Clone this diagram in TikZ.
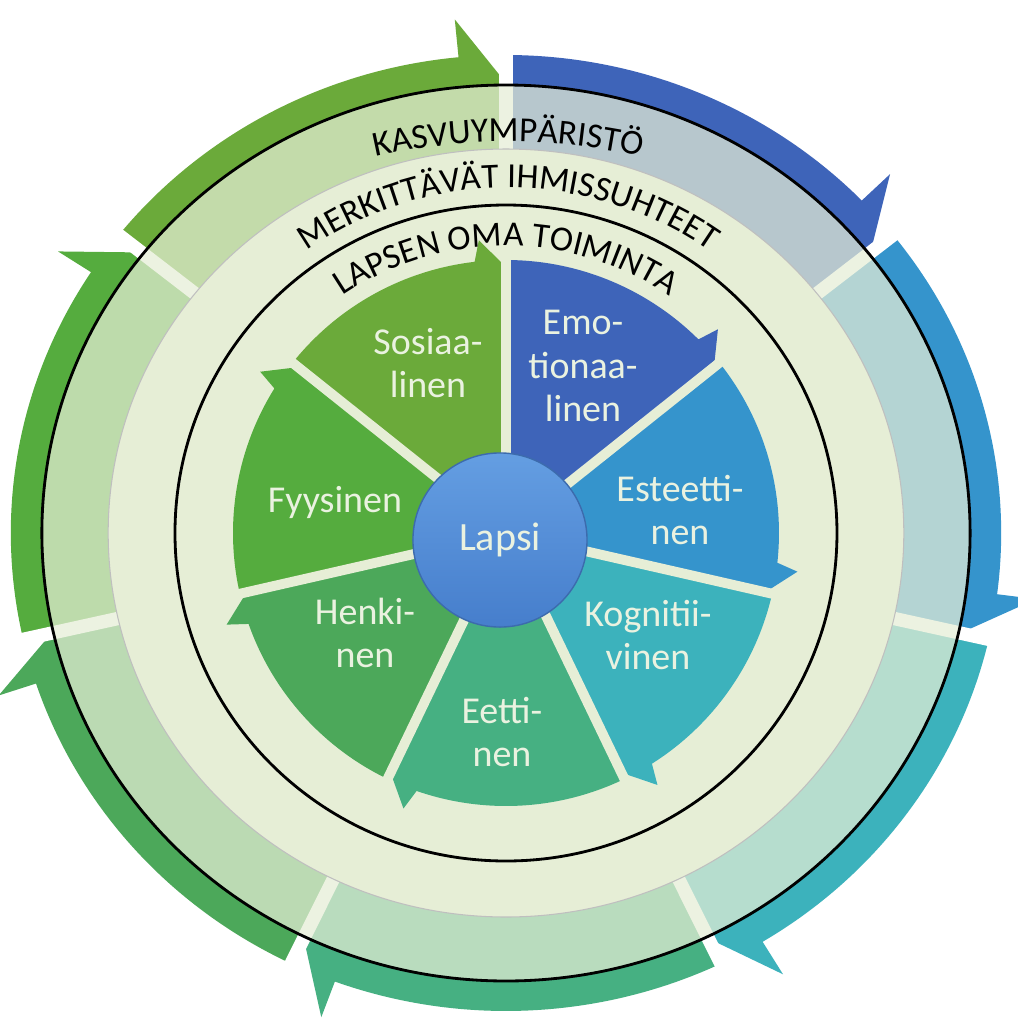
\documentclass[tikz,border=0pt]{standalone}
\usepackage{fontspec}
\setmainfont{Carlito}
\usepackage{xcolor}
\usetikzlibrary{decorations.text}

\definecolor{emoc}{RGB}{62,100,185}
\definecolor{estc}{RGB}{53,148,204}
\definecolor{kogc}{RGB}{60,178,188}
\definecolor{eetc}{RGB}{70,176,130}
\definecolor{henc}{RGB}{76,168,90}
\definecolor{fyyc}{RGB}{85,172,62}
\definecolor{sosc}{RGB}{107,170,58}
\definecolor{kerma}{RGB}{230,238,214}
\definecolor{lbltxt}{RGB}{234,242,224}
\definecolor{lapsiyla}{RGB}{100,158,226}
\definecolor{lapsiala}{RGB}{70,126,204}

\newcommand{\kaarifontti}{\fontsize{10}{12}\selectfont}

\begin{document}
\begin{tikzpicture}[
    x=0.01cm, y=0.01cm,
    rako/.style={line width=3.8pt, white},
    vali/.style={line width=2.8pt, kerma},
    rengas/.style={line width=0.8pt, black},
    lbl/.style={align=center, inner sep=0pt, text=lbltxt, font=\fontsize{10.8}{12.3}\selectfont},
    lapsi/.style={circle, minimum size=1.74cm, inner sep=0pt, top color=lapsiyla, bottom color=lapsiala,
        draw=lapsiala!85!black, line width=0.4pt, text=lbltxt, font=\fontsize{11.4}{13}\selectfont}
]
    % Tausta — kuvan koko 1018 x 1023
    \fill[white] (-506,-490) rectangle (512,533);
    \useasboundingbox (-506,-490) rectangle (512,533);

    % === Ulkokehä: nuolet ===
    \begin{scope}[xscale=1.036]
        \foreach \k/\col in {0/emoc,1/estc,2/kogc,3/eetc,4/henc,5/fyyc,6/sosc} {
            \pgfmathsetmacro{\alku}{90-\k*360/7}
            \pgfmathsetmacro{\loppu}{\alku-360/7}
            \pgfmathsetmacro{\karki}{\loppu+5.5}
            \fill[\col] (\alku:384) -- (\alku:478)
                arc[start angle=\alku, end angle=\karki, radius=478]
                -- (\karki:516) -- (\loppu:450) -- (\loppu:384)
                arc[start angle=\loppu, end angle=\alku, radius=384] -- cycle;
        }
        % raot nuolten välissä
        \foreach \k in {0,...,6} {
            \pgfmathsetmacro{\alku}{90-\k*360/7}
            \draw[rako] (\alku:376) -- (\alku:540);
        }
        % vaalea kehä nuolten päällä
        \fill[kerma, opacity=0.72, even odd rule] (0,0) circle[radius=448] (0,0) circle[radius=384];
        \fill[kerma] (0,0) circle[radius=384];
        \draw[black!25, line width=0.3pt] (0,0) circle[radius=384];
        \draw[rengas] (0,0) circle[radius=448];
    \end{scope}

    % sisempi rengas
    \draw[rengas] (0,0) ellipse[x radius=331, y radius=328];

    % === Sektorit ===
    \foreach \k/\col in {0/emoc,1/estc,2/kogc,3/eetc,4/henc,5/fyyc,6/sosc} {
        \pgfmathsetmacro{\alku}{90-\k*360/7}
        \pgfmathsetmacro{\loppu}{\alku-360/7}
        \pgfmathsetmacro{\kaari}{\loppu+6.6}
        \pgfmathsetmacro{\karki}{\loppu+5.3}
        \fill[\col] (0,0) -- (\alku:273)
            arc[start angle=\alku, end angle=\kaari, radius=273]
            -- (\karki:294) -- (\loppu:266) -- cycle;
    }
    \foreach \k in {0,...,6} {
        \pgfmathsetmacro{\alku}{90-\k*360/7}
        \draw[vali] (0,0) -- (\alku:300);
    }

    % keskus
    \node[lapsi] (lapsi) at (-6,-7) {Lapsi};

    % === Kehien tekstit ===
    % ulompi teksti loivemmalla kaarella
    \path[decorate, decoration={text along path, text align=center,
        text={|\kaarifontti|KASVUYMPÄRISTÖ}}]
        ([shift={(2,-209)}]155:600) arc[start angle=155, end angle=25, radius=600];
    \path[decorate, decoration={text along path, text align=center,
        text={|\kaarifontti|MERKITTÄVÄT IHMISSUHTEET}}]
        ([shift={(2,0)}]170:349 and 345) arc[start angle=170, end angle=10, x radius=349, y radius=345];
    \path[decorate, decoration={text along path, text align=center,
        text={|\kaarifontti|LAPSEN OMA TOIMINTA}}]
        (170:290 and 287) arc[start angle=170, end angle=10, x radius=290, y radius=287];

    % === Sektorien nimet ===
    \node[lbl] (sos) at (-78,170) {Sosiaa-\\linen};
    \node[lbl] (emo) at (77,167) {Emo-\\tionaa-\\linen};
    \node[lbl] (est) at (174,23) {Esteetti-\\nen};
    \node[lbl] (kog) at (142,-102) {Kognitii-\\vinen};
    \node[lbl] (eet) at (-4,-199) {Eetti-\\nen};
    \node[lbl] (hen) at (-141,-100) {Henki-\\nen};
    \node[lbl] (fyy) at (-171,31) {Fyysinen};

\end{tikzpicture}
\end{document}
